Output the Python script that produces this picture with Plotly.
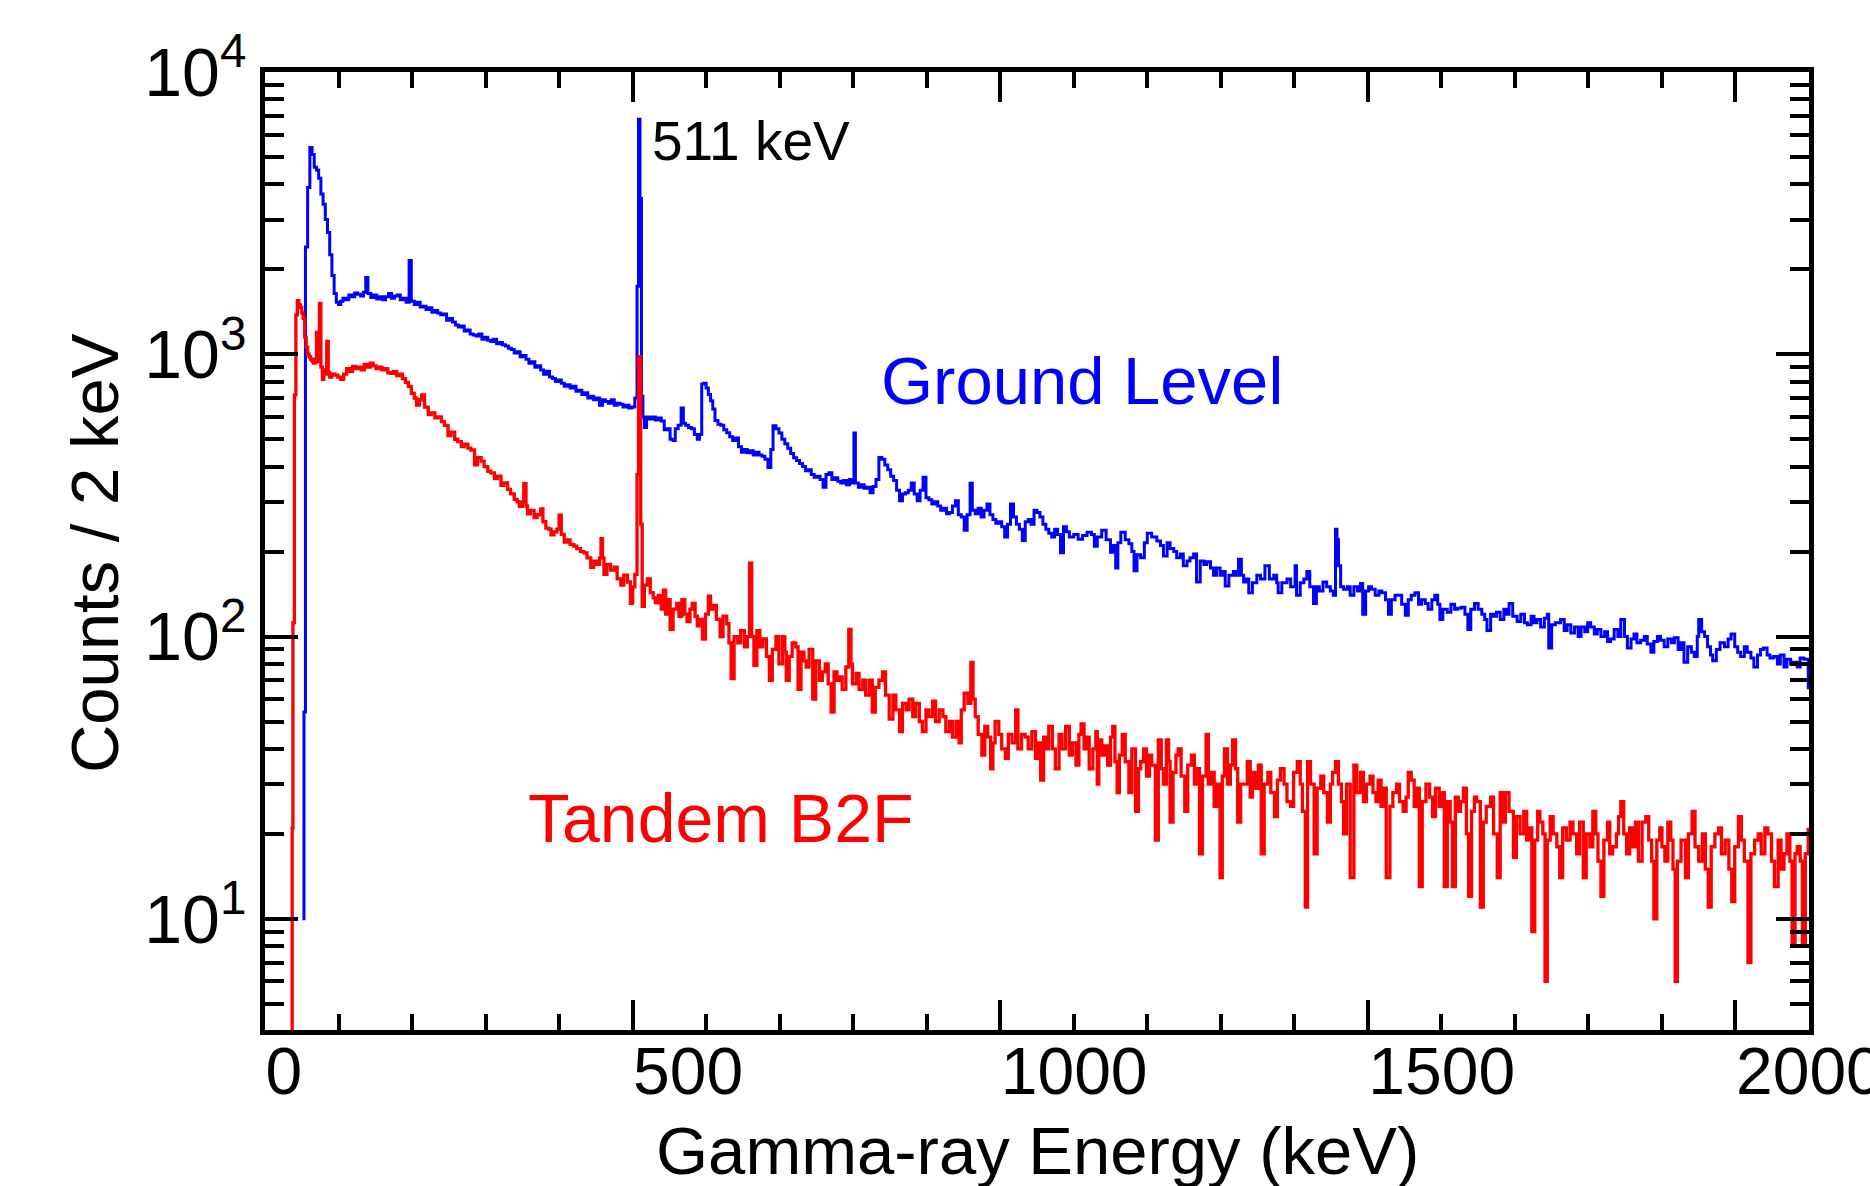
import plotly.graph_objects as go

# (energy keV, counts / 2 keV)
ground_level = [
    (51, 10), (53, 54), (55, 2400), (58, 3900), (61, 5400), (64, 5100), (67, 4600), (70, 4500),
    (73, 4200), (76, 3700), (79, 3400), (82, 3000), (85, 2700), (88, 2250), (91, 1900), (94, 1640),
    (97, 1530), (100, 1500), (103, 1540), (106, 1580), (110, 1560), (114, 1620), (118, 1600),
    (122, 1650), (126, 1630), (130, 1610), (134, 1660), (137, 1870), (140, 1640), (144, 1590),
    (148, 1620), (152, 1570), (156, 1600), (160, 1560), (164, 1600), (168, 1640), (172, 1580),
    (176, 1610), (180, 1620), (184, 1560), (188, 1580), (192, 1530), (196, 2150), (199, 1540),
    (203, 1500), (207, 1530), (211, 1470), (215, 1480), (219, 1440), (223, 1460), (227, 1410),
    (231, 1430), (235, 1400), (239, 1380), (243, 1390), (247, 1320), (251, 1340), (255, 1300),
    (259, 1270), (263, 1250), (267, 1260), (271, 1210), (275, 1220), (279, 1180), (283, 1170),
    (287, 1160), (291, 1180), (295, 1130), (299, 1150), (303, 1120), (307, 1110), (311, 1130),
    (315, 1090), (319, 1100), (323, 1080), (327, 1070), (331, 1050), (335, 1040), (339, 1010),
    (343, 1020), (347, 980), (351, 990), (355, 960), (359, 930), (363, 940), (367, 900), (371, 910),
    (375, 880), (379, 850), (383, 870), (387, 830), (391, 820), (395, 800), (399, 810), (403, 790),
    (407, 770), (411, 780), (415, 760), (419, 770), (423, 740), (427, 745), (431, 720), (435, 730),
    (439, 700), (443, 710), (447, 690), (451, 700), (455, 660), (459, 690), (463, 680), (467, 670),
    (471, 690), (475, 660), (479, 670), (483, 665), (487, 650), (491, 660), (495, 645), (499, 650),
    (503, 700), (506, 1740), (508, 6800), (510, 3560), (512, 710), (514, 600), (516, 550), (519, 600),
    (523, 590), (527, 600), (531, 585), (535, 595), (539, 580), (543, 540), (547, 545), (551, 500),
    (555, 495), (558, 545), (562, 560), (566, 645), (569, 570), (572, 560), (576, 550), (580, 545),
    (584, 520), (588, 500), (591, 520), (594, 784), (597, 790), (600, 760), (603, 720), (606, 684),
    (609, 640), (612, 582), (616, 565), (620, 560), (624, 540), (628, 527), (632, 510), (636, 495),
    (640, 505), (644, 470), (648, 450), (652, 460), (656, 448), (660, 455), (664, 440), (668, 450),
    (672, 440), (676, 435), (680, 425), (684, 397), (688, 460), (691, 558), (695, 545), (699, 526),
    (703, 500), (707, 482), (711, 465), (715, 445), (719, 430), (723, 420), (727, 410), (731, 400),
    (735, 387), (739, 390), (743, 375), (747, 367), (751, 370), (755, 360), (759, 338), (763, 375),
    (767, 380), (771, 360), (775, 365), (779, 355), (783, 350), (787, 357), (791, 345), (795, 360),
    (799, 350), (801, 526), (803, 350), (807, 338), (811, 345), (815, 335), (819, 338), (823, 323),
    (827, 340), (831, 360), (835, 431), (839, 425), (843, 405), (847, 390), (851, 370), (855, 357),
    (859, 330), (863, 303), (867, 320), (871, 323), (875, 330), (879, 350), (883, 320), (887, 303),
    (891, 330), (895, 367), (899, 310), (903, 305), (907, 295), (911, 300), (915, 290), (919, 280),
    (923, 285), (927, 272), (931, 275), (935, 290), (939, 303), (943, 270), (947, 265), (951, 238),
    (955, 270), (959, 349), (962, 280), (966, 272), (970, 285), (974, 265), (978, 280), (982, 295),
    (986, 270), (990, 260), (994, 252), (998, 255), (1002, 245), (1006, 225), (1010, 250),
    (1014, 295), (1018, 265), (1022, 250), (1026, 240), (1030, 219), (1034, 255), (1038, 260),
    (1042, 250), (1046, 280), (1050, 275), (1054, 265), (1058, 250), (1062, 240), (1066, 232),
    (1070, 225), (1074, 240), (1078, 230), (1082, 198), (1086, 245), (1090, 235), (1094, 225),
    (1100, 230), (1106, 221), (1112, 228), (1118, 234), (1124, 230), (1128, 209), (1132, 225),
    (1138, 238), (1144, 220), (1150, 199), (1154, 210), (1157, 175), (1160, 215), (1164, 234),
    (1170, 220), (1175, 213), (1179, 200), (1182, 171), (1186, 195), (1191, 190), (1196, 215),
    (1200, 232), (1206, 225), (1213, 218), (1218, 210), (1222, 193), (1227, 215), (1231, 205),
    (1236, 200), (1240, 190), (1245, 196), (1249, 178), (1254, 185), (1258, 190), (1263, 196),
    (1267, 156), (1272, 185), (1277, 180), (1281, 184), (1286, 175), (1290, 165), (1294, 175),
    (1299, 165), (1303, 170), (1306, 151), (1311, 165), (1317, 170), (1321, 165), (1324, 188),
    (1328, 165), (1331, 156), (1335, 160), (1338, 143), (1343, 155), (1349, 165), (1354, 160),
    (1360, 178), (1366, 160), (1372, 165), (1376, 155), (1378, 143), (1383, 155), (1390, 160),
    (1395, 150), (1401, 178), (1403, 140), (1408, 155), (1413, 160), (1417, 170), (1421, 150),
    (1426, 131), (1430, 150), (1434, 145), (1439, 156), (1444, 150), (1449, 145), (1453, 140),
    (1456, 240), (1458, 220), (1460, 178), (1463, 150), (1467, 147), (1472, 150), (1476, 140),
    (1481, 150), (1486, 145), (1490, 154), (1493, 120), (1497, 145), (1501, 150), (1505, 147),
    (1510, 140), (1515, 145), (1519, 143), (1524, 135), (1528, 120), (1532, 135), (1537, 140),
    (1542, 140), (1546, 130), (1551, 119), (1555, 135), (1559, 140), (1564, 143), (1569, 130),
    (1573, 135), (1578, 131), (1582, 125), (1587, 135), (1591, 140), (1595, 130), (1598, 115),
    (1602, 125), (1608, 122), (1613, 130), (1618, 125), (1622, 126), (1627, 127), (1632, 120),
    (1636, 106), (1640, 125), (1645, 131), (1650, 125), (1655, 120), (1659, 115), (1662, 105),
    (1667, 120), (1671, 118), (1675, 122), (1680, 115), (1685, 125), (1689, 120), (1692, 131),
    (1697, 118), (1703, 113), (1708, 120), (1713, 112), (1717, 110), (1722, 118), (1726, 112),
    (1730, 115), (1735, 108), (1740, 116), (1744, 120), (1746, 91), (1750, 110), (1755, 112),
    (1762, 115), (1767, 105), (1771, 110), (1776, 103), (1781, 108), (1786, 100), (1790, 108),
    (1795, 104), (1799, 112), (1803, 108), (1808, 102), (1812, 106), (1817, 100), (1822, 104),
    (1826, 96), (1830, 98), (1835, 106), (1840, 100), (1844, 115), (1849, 100), (1853, 91),
    (1858, 98), (1862, 102), (1866, 95), (1871, 97), (1876, 100), (1880, 94), (1885, 88), (1889, 96),
    (1894, 100), (1898, 97), (1903, 92), (1908, 98), (1913, 95), (1917, 99), (1922, 90), (1926, 95),
    (1930, 81), (1935, 92), (1940, 88), (1944, 85), (1948, 100), (1950, 115), (1954, 104),
    (1958, 100), (1962, 92), (1966, 86), (1969, 82), (1974, 90), (1979, 95), (1985, 92), (1990, 98),
    (1994, 102), (1999, 92), (2003, 88), (2007, 85), (2012, 92), (2016, 88), (2021, 84), (2025, 78),
    (2030, 86), (2034, 90), (2038, 91), (2043, 86), (2047, 84), (2052, 85), (2057, 80), (2061, 86),
    (2066, 78), (2070, 83), (2075, 80), (2079, 81), (2084, 78), (2088, 84), (2093, 83), (2099, 65),
]

tandem_b2f = [
    (26, 1), (37, 21), (38, 112), (40, 718), (42, 1380), (44, 1550), (46, 1500), (48, 1465),
    (50, 1400), (52, 1340), (54, 1150), (56, 1060), (58, 1000), (60, 980), (62, 960), (64, 946),
    (66, 930), (68, 960), (70, 1195), (72, 940), (74, 1515), (76, 900), (78, 815), (80, 880),
    (82, 850), (84, 1110), (86, 860), (88, 830), (91, 850), (95, 843), (99, 830), (103, 815),
    (107, 850), (111, 890), (115, 870), (119, 905), (123, 890), (127, 900), (131, 880), (135, 920),
    (139, 900), (143, 930), (147, 910), (151, 890), (155, 900), (159, 880), (163, 890), (167, 860),
    (171, 855), (175, 870), (179, 840), (183, 850), (187, 820), (191, 795), (195, 770), (199, 727),
    (203, 700), (206, 660), (210, 690), (213, 718), (217, 650), (222, 611), (226, 620), (231, 595),
    (235, 600), (240, 577), (244, 560), (249, 515), (253, 530), (258, 500), (262, 490), (267, 471),
    (271, 480), (276, 465), (280, 458), (285, 406), (289, 430), (294, 418), (298, 400), (303, 385),
    (307, 380), (312, 363), (316, 370), (321, 343), (325, 350), (330, 332), (334, 320), (339, 306),
    (343, 300), (346, 289), (350, 300), (352, 348), (355, 290), (357, 272), (361, 280), (366, 264),
    (370, 270), (375, 283), (378, 255), (382, 242), (386, 240), (389, 229), (393, 235), (397, 240),
    (400, 269), (403, 230), (407, 216), (411, 220), (415, 212), (420, 209), (424, 205), (429, 200),
    (434, 198), (438, 190), (443, 176), (447, 185), (451, 180), (455, 190), (457, 222), (459, 190),
    (461, 166), (465, 180), (470, 172), (475, 176), (479, 160), (484, 152), (488, 165), (493, 156),
    (497, 131), (500, 150), (503, 166), (506, 375), (508, 980), (511, 250), (513, 128), (516, 152),
    (520, 160), (524, 143), (528, 137), (531, 132), (535, 140), (539, 125), (542, 146), (545, 120),
    (549, 135), (551, 106), (555, 125), (560, 131), (563, 118), (567, 135), (571, 120), (574, 113),
    (578, 125), (581, 131), (585, 118), (588, 109), (592, 115), (595, 98), (599, 120), (603, 139),
    (606, 125), (610, 129), (614, 115), (619, 100), (623, 118), (628, 111), (631, 95), (634, 71),
    (638, 100), (643, 95), (647, 105), (652, 92), (656, 100), (659, 182), (662, 100), (665, 79),
    (669, 105), (673, 92), (677, 98), (682, 85), (686, 70), (690, 90), (695, 100), (699, 80),
    (704, 100), (707, 88), (709, 70), (713, 85), (717, 95), (722, 92), (725, 65), (729, 88),
    (733, 82), (736, 78), (740, 90), (745, 60), (749, 82), (754, 70), (758, 75), (762, 80), (766, 68),
    (770, 54), (774, 75), (778, 70), (781, 72), (785, 65), (790, 78), (794, 106), (797, 80), (799, 68),
    (804, 74), (808, 65), (813, 70), (817, 62), (822, 70), (826, 54), (830, 66), (835, 70), (840, 75),
    (844, 62), (849, 51), (854, 62), (858, 55), (863, 46), (867, 58), (872, 55), (876, 60), (881, 52),
    (885, 58), (890, 50), (894, 46), (899, 55), (903, 52), (908, 59), (912, 50), (917, 55), (922, 52),
    (926, 46), (931, 50), (935, 44), (940, 50), (944, 42), (947, 55), (951, 63), (956, 58), (960, 81),
    (963, 60), (966, 52), (970, 45), (975, 38), (979, 48), (983, 44), (987, 34), (990, 42), (993, 50),
    (998, 45), (1002, 40), (1007, 37), (1011, 45), (1016, 42), (1021, 55), (1024, 40), (1029, 45),
    (1034, 44), (1038, 40), (1043, 46), (1048, 37), (1052, 42), (1055, 31), (1059, 44), (1063, 40),
    (1066, 48), (1071, 40), (1075, 34), (1080, 45), (1084, 40), (1089, 48), (1094, 38), (1098, 42),
    (1103, 35), (1107, 45), (1110, 49), (1114, 40), (1118, 44), (1121, 34), (1126, 40), (1130, 46),
    (1132, 30), (1134, 43), (1138, 38), (1142, 41), (1146, 35), (1150, 44), (1153, 48), (1156, 36),
    (1159, 28), (1162, 38), (1166, 45), (1170, 36), (1175, 28), (1179, 40), (1184, 24), (1188, 34),
    (1191, 36), (1195, 40), (1199, 32), (1203, 38), (1206, 35), (1211, 19), (1215, 43), (1219, 34),
    (1222, 30), (1226, 43), (1229, 36), (1231, 22), (1235, 33), (1239, 38), (1242, 40), (1246, 32),
    (1251, 24), (1255, 35), (1260, 38), (1264, 30), (1268, 34), (1271, 17), (1275, 32), (1280, 45),
    (1283, 30), (1287, 33), (1291, 25), (1295, 30), (1299, 14), (1302, 32), (1305, 40), (1309, 30),
    (1313, 35), (1316, 43), (1320, 34), (1323, 22), (1327, 30), (1332, 30), (1336, 36), (1340, 27),
    (1343, 33), (1347, 29), (1351, 35), (1355, 17), (1359, 30), (1364, 33), (1368, 28), (1373, 23),
    (1377, 31), (1381, 34), (1386, 30), (1390, 26), (1395, 25), (1399, 33), (1404, 36), (1408, 30),
    (1411, 24), (1415, 11), (1418, 36), (1422, 30), (1427, 17), (1431, 29), (1436, 32), (1440, 28),
    (1445, 22), (1449, 30), (1452, 33), (1456, 36), (1460, 30), (1464, 26), (1467, 20), (1471, 30),
    (1476, 14), (1481, 35), (1485, 28), (1490, 33), (1494, 26), (1498, 30), (1503, 32), (1507, 28),
    (1511, 26), (1514, 31), (1518, 25), (1522, 29), (1525, 14), (1530, 25), (1534, 28), (1539, 30),
    (1543, 26), (1548, 24), (1552, 27), (1555, 33), (1559, 31), (1563, 25), (1567, 29), (1570, 13),
    (1574, 26), (1579, 30), (1584, 27), (1588, 23), (1592, 29), (1597, 25), (1600, 28), (1604, 13),
    (1608, 26), (1612, 22), (1615, 13), (1619, 27), (1623, 24), (1626, 26), (1630, 29), (1634, 20),
    (1637, 12), (1641, 24), (1645, 27), (1648, 26), (1653, 11), (1657, 22), (1661, 25), (1667, 27),
    (1671, 20), (1676, 14), (1680, 28), (1684, 22), (1687, 28), (1692, 24), (1698, 16.5), (1702, 23),
    (1707, 20), (1712, 24), (1716, 19), (1720, 21), (1723, 9), (1727, 19), (1731, 24), (1734, 22),
    (1738, 20), (1741, 6), (1744, 19), (1748, 23), (1752, 20), (1757, 18), (1761, 14), (1765, 21),
    (1770, 19), (1775, 22), (1779, 20), (1784, 17), (1788, 22), (1793, 14), (1797, 20), (1802, 18),
    (1806, 24), (1810, 20), (1813, 16), (1817, 12), (1821, 19), (1826, 22), (1829, 17), (1833, 18),
    (1838, 20), (1841, 23), (1844, 26), (1848, 20), (1852, 17), (1856, 21), (1860, 18), (1864, 22),
    (1868, 16), (1873, 22), (1878, 23), (1882, 19), (1886, 16), (1889, 10), (1893, 19), (1897, 21),
    (1900, 18), (1904, 16), (1908, 22), (1912, 19), (1915, 15), (1918, 6), (1921, 16), (1926, 19),
    (1932, 14), (1936, 20), (1941, 24), (1945, 18), (1950, 16), (1955, 20), (1959, 15), (1963, 11),
    (1967, 18), (1972, 20), (1977, 21), (1981, 17), (1986, 19), (1991, 15), (1995, 11.5), (1999, 18),
    (2004, 23), (2008, 19), (2012, 16), (2017, 7), (2021, 17), (2026, 19), (2031, 20), (2035, 17),
    (2040, 21), (2044, 20), (2049, 16), (2053, 13), (2058, 19), (2062, 15), (2066, 17), (2070, 20),
    (2074, 16), (2077, 8), (2081, 17), (2084, 18), (2088, 16), (2091, 8), (2095, 17), (2099, 21),
]

x_ticks = [0, 500, 1000, 1500, 2000]
x_minor = [e for e in range(100, 2100, 100) if e % 500 != 0]
y_ticks = [10, 100, 1000, 10000]
y_ticktext = ["10<sup>1</sup>", "10<sup>2</sup>", "10<sup>3</sup>", "10<sup>4</sup>"]
y_minor = [m * 10 ** d for d in range(0, 4) for m in range(2, 10)]

FONT = "Liberation Sans, Arial, sans-serif"
BLUE = "#0000FF"
RED = "#FF0000"

fig = go.Figure()
fig.add_trace(go.Scatter(
    x=[p[0] for p in ground_level], y=[p[1] for p in ground_level],
    mode="lines", line=dict(color=BLUE, width=3, shape="hv"), name="Ground Level",
))
fig.add_trace(go.Scatter(
    x=[p[0] for p in tandem_b2f], y=[p[1] for p in tandem_b2f],
    mode="lines", line=dict(color=RED, width=3.3, shape="hv"), name="Tandem B2F",
))

fig.update_xaxes(
    range=[0, 2100], tickmode="array", tickvals=x_ticks, ticktext=[str(v) for v in x_ticks],
    ticks="inside", ticklen=30, tickwidth=4, tickcolor="black",
    showline=True, linewidth=5, linecolor="black", mirror="allticks", automargin=False,
    showgrid=False, zeroline=False, ticklabelposition="outside right",
    ticklabeloverflow="allow", ticklabelstandoff=-20, ticklabelshift=-4,
    tickfont=dict(family=FONT, size=66, color="black"),
    minor=dict(tickmode="array", tickvals=x_minor, ticks="inside", ticklen=16, tickwidth=4,
               tickcolor="black", showgrid=False),
)
fig.update_yaxes(
    type="log", range=[0.606, 4.0], tickmode="array", tickvals=y_ticks, ticktext=y_ticktext,
    ticks="inside", ticklen=33, tickwidth=4, tickcolor="black",
    showline=True, linewidth=5, linecolor="black", mirror="allticks", automargin=False,
    showgrid=False, zeroline=False, ticklabeloverflow="allow",
    tickfont=dict(family=FONT, size=68, color="black"),
    minor=dict(tickmode="array", tickvals=y_minor, ticks="inside", ticklen=19, tickwidth=4,
               tickcolor="black", showgrid=False),
)

fig.add_annotation(x=-0.11, y=0.498, xref="paper", yref="paper", text="Counts / 2 keV",
                   textangle=-90, showarrow=False, xanchor="center", yanchor="middle",
                   font=dict(family=FONT, size=67, color="black"))
fig.add_annotation(x=0.5, y=-0.085, xref="paper", yref="paper", text="Gamma-ray Energy (keV)",
                   showarrow=False, xanchor="center", yanchor="top",
                   font=dict(family=FONT, size=67, color="black"))
fig.add_annotation(x=524, y=3.757, xref="x", yref="y", text="511 keV", showarrow=False,
                   xanchor="left", yanchor="middle", font=dict(family=FONT, size=55, color="black"))
fig.add_annotation(x=835, y=2.908, xref="x", yref="y", text="Ground Level", showarrow=False,
                   xanchor="left", yanchor="middle", font=dict(family=FONT, size=67, color=BLUE))
fig.add_annotation(x=355, y=1.356, xref="x", yref="y", text="Tandem B2F", showarrow=False,
                   xanchor="left", yanchor="middle", font=dict(family=FONT, size=68, color=RED))

fig.update_layout(
    width=1870, height=1186, autosize=False,
    margin=dict(l=265, r=61, t=72, b=156),
    paper_bgcolor="white", plot_bgcolor="white", showlegend=False,
    font=dict(family=FONT, color="black"),
)

fig.write_html("out.html", config={"displayModeBar": False},
               post_script="document.body.style.margin='0';")
